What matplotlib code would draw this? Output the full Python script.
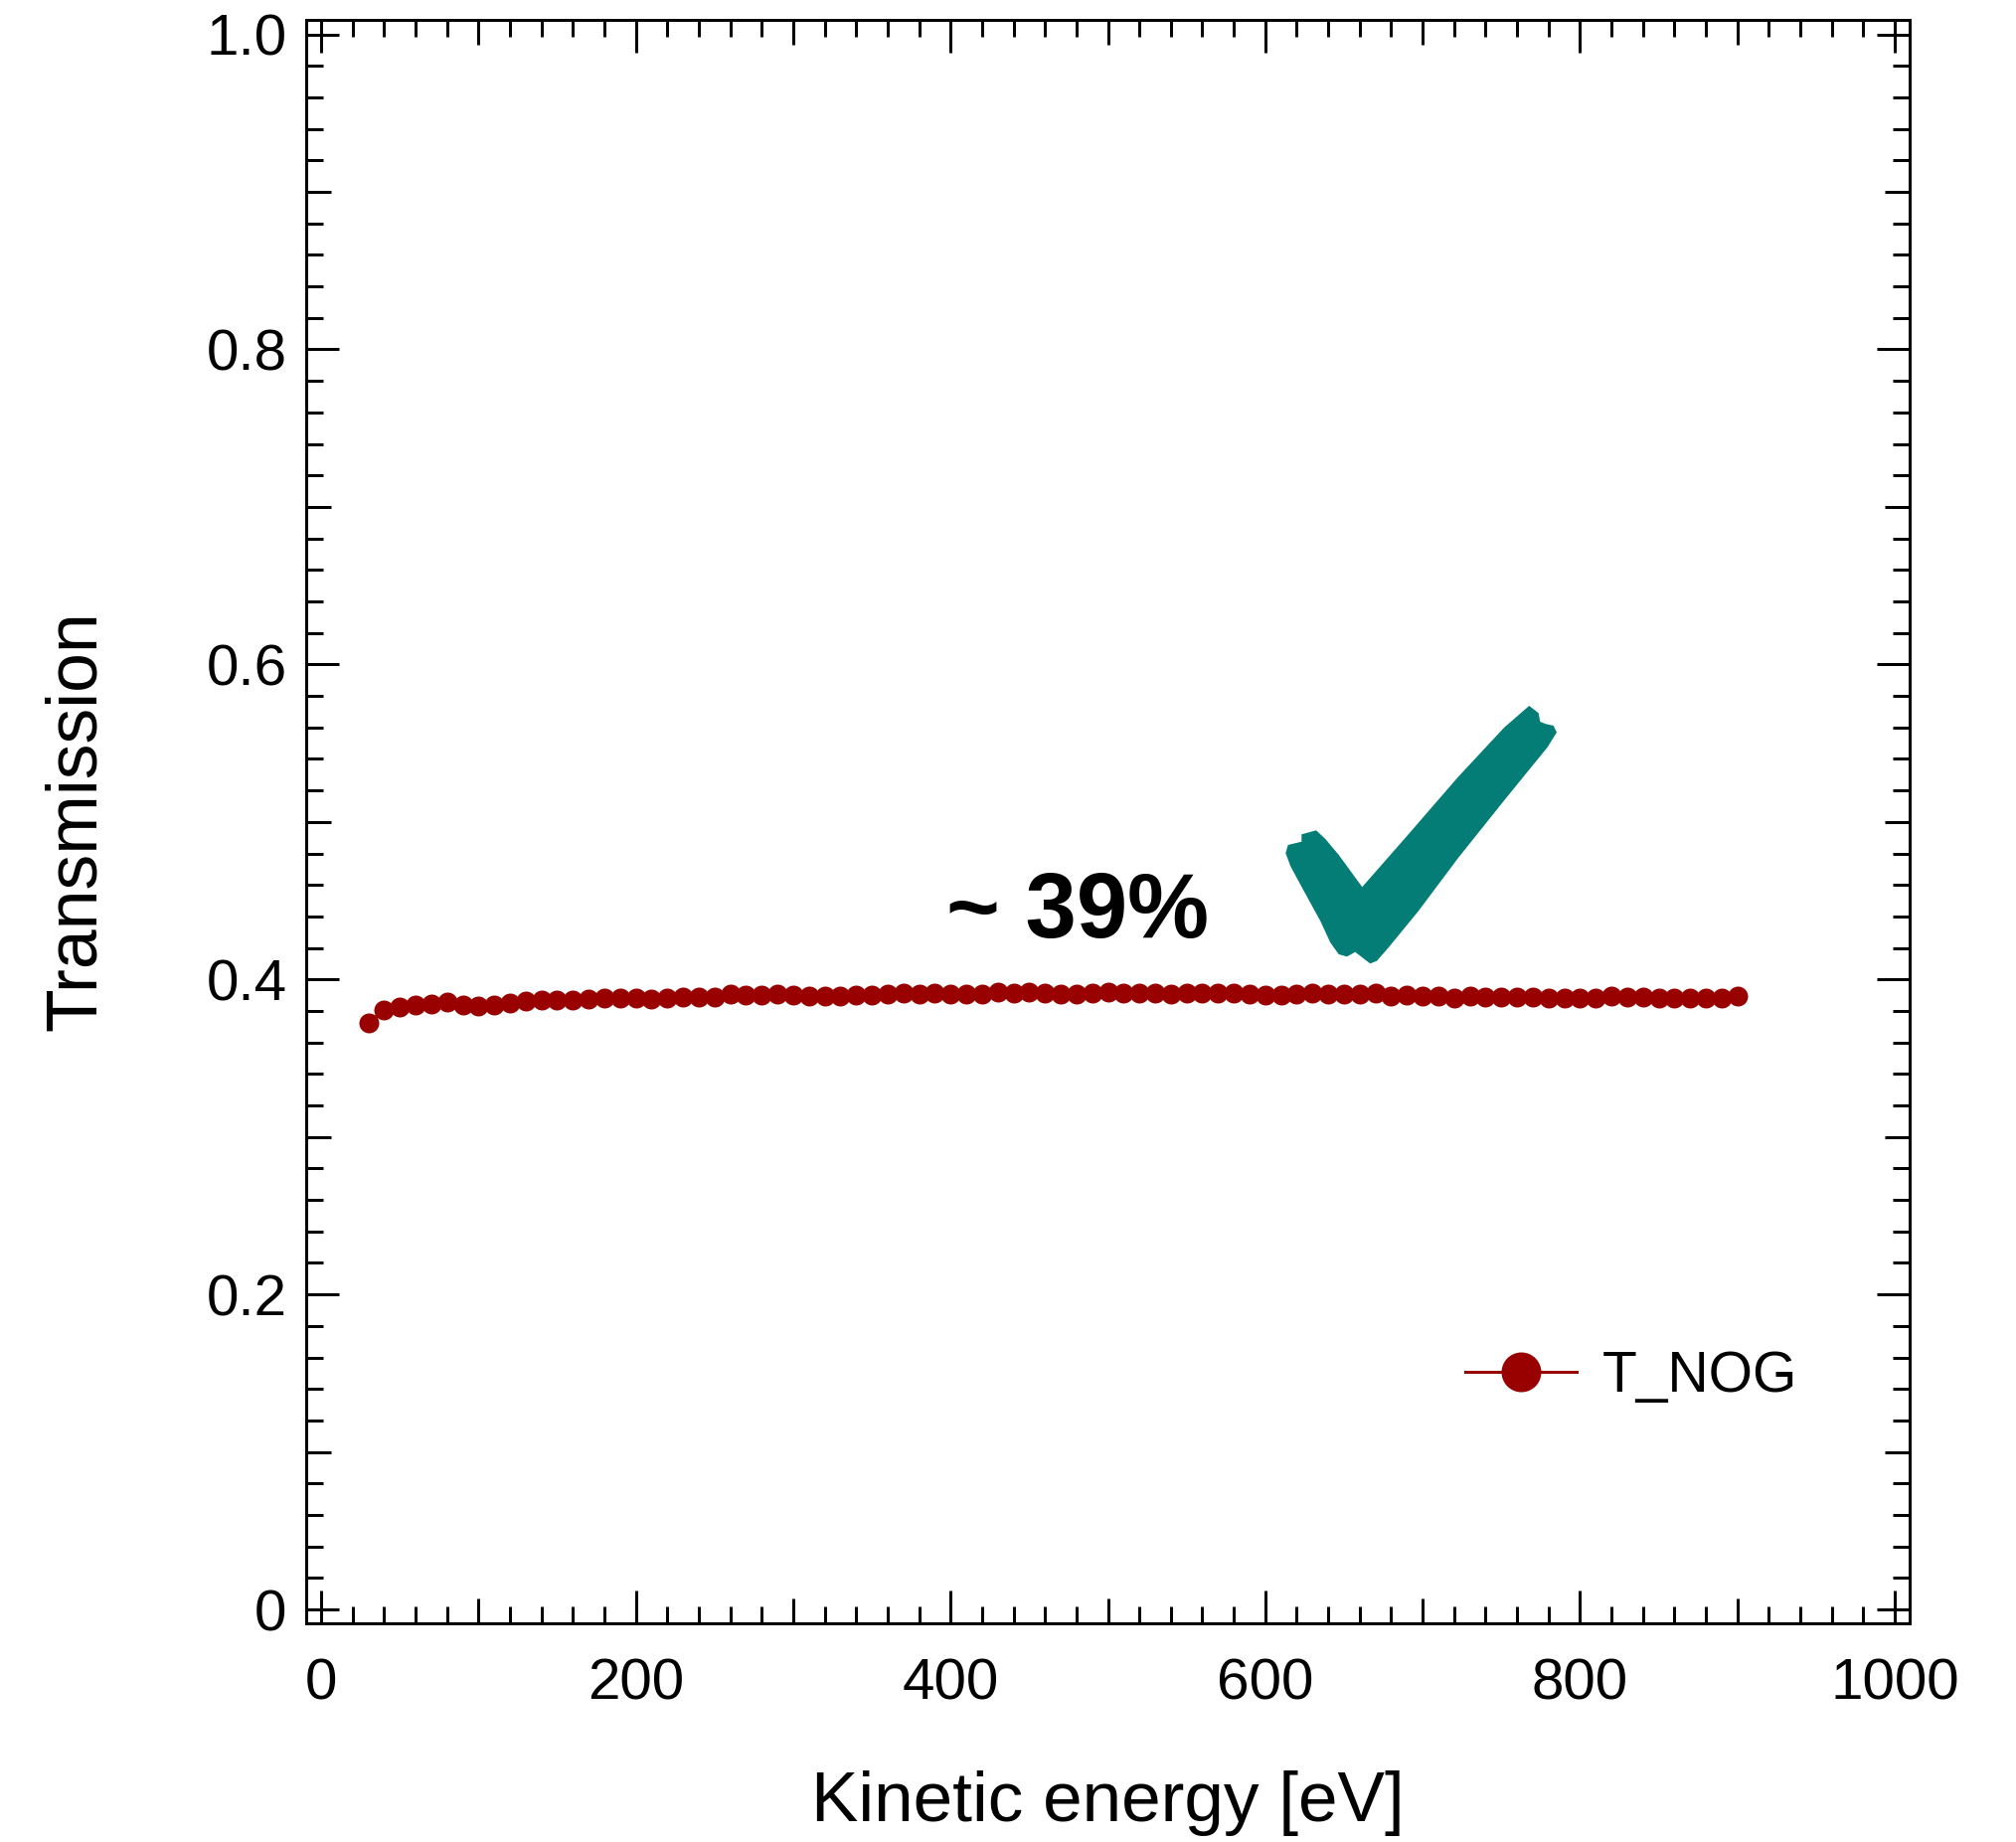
import numpy as np
import matplotlib
matplotlib.use("Agg")
import matplotlib.pyplot as plt
from matplotlib.patches import Polygon

plt.rcParams['font.family'] = ['Liberation Sans', 'DejaVu Sans']

# data
energy = list(range(30, 910, 10))
transmission = [
    .3724, .3806, .3827, .3836, .3844, .3855, .3840, .3829, .3838, .3849,
    .3860, .3870, .3870, .3872, .3875, .3882, .3882, .3880, .3878, .3882,
    .3886, .3888, .3888, .3907, .3900, .3900, .3907, .3900, .3895, .3895,
    .3895, .3903, .3903, .3907, .3911, .3905, .3911, .3905, .3909, .3909,
    .3918, .3916, .3918, .3911, .3909, .3905, .3916, .3918, .3916, .3911,
    .3911, .3909, .3913, .3913, .3911, .3913, .3909, .3900, .3898, .3907,
    .3911, .3909, .3909, .3909, .3911, .3896, .3902, .3892, .3894, .3881,
    .3894, .3888, .3888, .3888, .3885, .3881, .3884, .3880, .3880, .3897,
    .3890, .3888, .3882, .3880, .3880, .3884, .3884, .3893,
]
xticks = [0, 200, 400, 600, 800, 1000]
yticks = [0, 0.2, 0.4, 0.6, 0.8, 1.0]
yticklabels = ['0', '0.2', '0.4', '0.6', '0.8', '1.0']

# outline of the hand drawn tick, in pixels of the image
check_px = [(1293.3, 858.3), (1295.7, 850), (1309.3, 846.7), (1309.3, 839.3), (1324, 835.3),
            (1333.3, 844), (1346.7, 860), (1370.3, 892.3), (1413.3, 843.3), (1466.7, 781.7),
            (1513.3, 731.7), (1538.3, 710), (1547.7, 717.3), (1549.3, 726), (1555, 728.3),
            (1562.7, 730), (1566, 736.7), (1556.7, 751.7), (1513.3, 805), (1466.7, 863.3),
            (1426.7, 916.7), (1396.7, 953.3), (1385, 966.7), (1378.3, 969.3), (1363.3, 957.7),
            (1355, 962.3), (1346.7, 960), (1338.3, 948.3), (1328.3, 926.7), (1310, 893.3),
            (1298.3, 871.7)]

red = '#990000'
px = 0.72

fig = plt.figure(figsize=(20.28, 18.53), dpi=100)
ax = fig.add_axes([308/2028, 1-1633/1853, 1613/2028, 1613/1853])

ax.plot(energy, transmission, '-o', color=red, lw=3*px, ms=20*px, mew=0, label='T_NOG')

ax.set_xlim(-9.5, 1009.5)
ax.set_ylim(-0.0088, 1.0092)
ax.set_xticks(xticks)
ax.set_yticks(yticks)
ax.set_yticklabels(yticklabels, va='center_baseline')
ax.set_xticks(np.arange(0, 1001, 20), minor=True)
ax.set_yticks(np.arange(0, 1.001, 0.02), minor=True)

ax.tick_params(axis='both', which='major', direction='in', top=True, right=True,
               length=33*px, width=3*px, labelsize=42)
ax.tick_params(axis='both', which='minor', direction='in', top=True, right=True,
               length=17*px, width=3*px)
ax.tick_params(axis='x', which='major', pad=25)
ax.tick_params(axis='y', which='major', pad=14)

# the minor ticks half way between labels are longer
for axis, mid in ((ax.xaxis, 100), (ax.yaxis, 0.1)):
    locs = axis.get_minorticklocs()
    for loc, tick in zip(locs, axis.get_minor_ticks(len(locs))):
        if abs(loc/mid - round(loc/mid)) < 1e-6:
            tick.tick1line.set_markersize(25*px)
            tick.tick2line.set_markersize(25*px)

for s in ax.spines.values():
    s.set_linewidth(3*px)

fig.text(1114/2028, 1-1814/1853, 'Kinetic energy [eV]', fontsize=51.2, ha='center', va='center')
fig.text(77/2028, 1-826/1853, 'Transmission', fontsize=51.5, rotation=90, ha='center', va='center')
fig.text(952/2028, 1-943/1853, '~ 39%', fontsize=66.4, fontweight='bold', ha='left', va='baseline')

fig.add_artist(Polygon([(x/2028, 1-y/1853) for x, y in check_px], closed=True,
                       transform=fig.transFigure, facecolor='#047D76', edgecolor='none'))

ax.legend(loc='center left', bbox_to_anchor=(0.723, 0.1535), frameon=False, fontsize=41,
          numpoints=1, markerscale=2, handlelength=1.97, handletextpad=0.45,
          borderpad=0, borderaxespad=0)

fig.savefig('out.png', dpi=100)
